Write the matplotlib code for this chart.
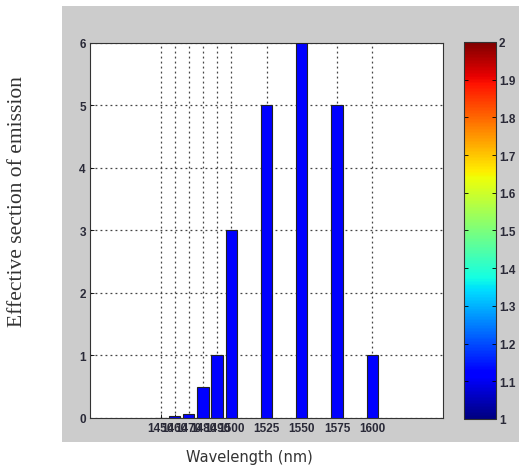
#!/usr/bin/env python3
"""Bar chart of effective emission section vs wavelength (MATLAB-like look)."""

import matplotlib

matplotlib.use("Agg")
import matplotlib.pyplot as plt
from matplotlib.cm import ScalarMappable
from matplotlib.colors import Normalize
from matplotlib.patches import Rectangle

wavelengths = [1450, 1460, 1470, 1480, 1490, 1500, 1525, 1550, 1575, 1600]
emission = [0.0, 0.03, 0.06, 0.5, 1.0, 3.0, 5.0, 6.0, 5.0, 1.0]
y_ticks = [0, 1, 2, 3, 4, 5, 6]
cbar_ticks = [1, 1.1, 1.2, 1.3, 1.4, 1.5, 1.6, 1.7, 1.8, 1.9, 2]

TICK_FONT = {"family": "Liberation Sans", "size": 8.5, "color": "#2a2a38",
             "weight": "bold"}

fig = plt.figure(figsize=(5.19, 4.77), dpi=100)
fig.patch.set_facecolor("white")

# gray MATLAB figure panel, kept behind the axes
fig.patches.append(
    Rectangle((0.119, 0.0713), 0.881, 0.914, transform=fig.transFigure,
              facecolor="#cccccc", edgecolor="none", zorder=-10)
)

ax = fig.add_axes([0.1734, 0.1216, 0.6802, 0.7862])
ax.set_facecolor("white")
ax.bar(wavelengths, emission, width=8, color="#0000ff", edgecolor="#222222",
       linewidth=0.8, zorder=3)
ax.set_xlim(1400, 1650)
ax.set_ylim(0, 6)
ax.set_xticks(wavelengths)
ax.set_xticklabels([str(w) for w in wavelengths], fontdict=TICK_FONT)
ax.set_yticks(y_ticks)
ax.set_yticklabels([str(v) for v in y_ticks], fontdict=TICK_FONT)
ax.tick_params(direction="in", length=3, width=0.6, pad=3)
ax.grid(True, linestyle=(0, (1.5, 2.5)), linewidth=0.9, color="#444444", zorder=1)
ax.set_axisbelow(True)
for spine in ax.spines.values():
    spine.set_linewidth(0.8)
    spine.set_color("#333333")

fig.text(0.033, 0.5765, "Effective section of emission", rotation=90,
         ha="center", va="center", family="Liberation Serif",
         fontsize=15.5, color="#333333")
fig.text(0.48, 0.025, "Wavelength (nm)", ha="center", va="bottom",
         family="DejaVu Sans", fontsize=10.5, color="#333333")

cax = fig.add_axes([0.894, 0.1195, 0.0617, 0.7904])
sm = ScalarMappable(norm=Normalize(1, 2), cmap="jet")
cbar = fig.colorbar(sm, cax=cax)
cbar.set_ticks(cbar_ticks)
cbar.set_ticklabels([f"{t:g}" for t in cbar_ticks])
for lbl in cax.get_yticklabels():
    lbl.set_fontfamily("Liberation Sans")
    lbl.set_fontsize(8.5)
    lbl.set_fontweight("bold")
    lbl.set_color("#2a2a38")
cax.tick_params(direction="in", length=3, width=0.6, left=True, right=True, pad=2)
cbar.outline.set_linewidth(0.8)
cbar.outline.set_edgecolor("#333333")

fig.savefig("out.png", dpi=100)
